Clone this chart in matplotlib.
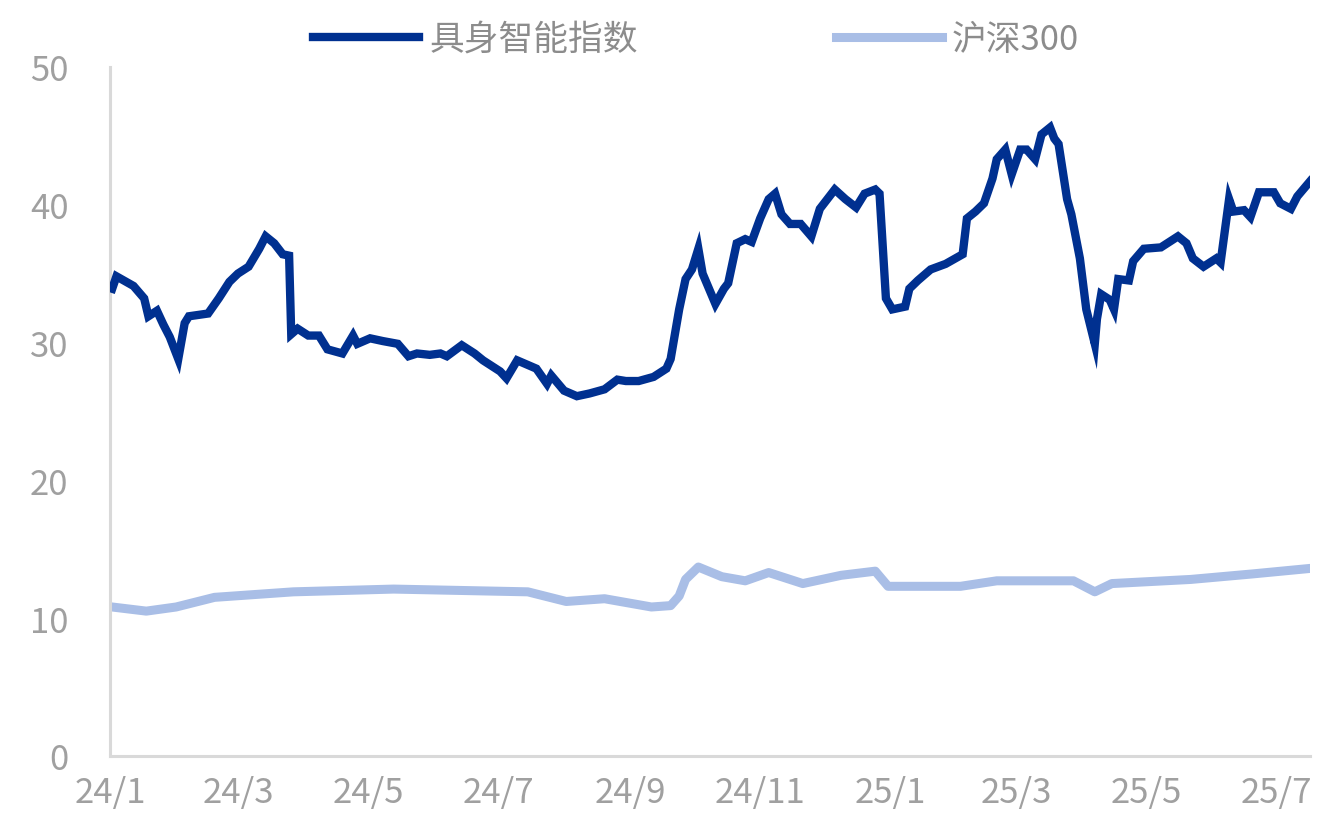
import matplotlib
matplotlib.use("Agg")
import matplotlib.pyplot as plt
import matplotlib.dates as mdates
import pandas as pd

plt.rcParams['font.family'] = ['Noto Sans CJK SC', 'DejaVu Sans']

# 具身智能指数
robot_dates = [
    "2024-01-02", "2024-01-04", "2024-01-12", "2024-01-17", "2024-01-19", "2024-01-23",
    "2024-01-26", "2024-01-29", "2024-02-02", "2024-02-05", "2024-02-07", "2024-02-16",
    "2024-02-21", "2024-02-26", "2024-03-01", "2024-03-06", "2024-03-11", "2024-03-14",
    "2024-03-18", "2024-03-22", "2024-03-25", "2024-03-26", "2024-03-29", "2024-04-03",
    "2024-04-08", "2024-04-12", "2024-04-19", "2024-04-24", "2024-04-26", "2024-05-02",
    "2024-05-08", "2024-05-15", "2024-05-20", "2024-05-24", "2024-05-30", "2024-06-04",
    "2024-06-07", "2024-06-14", "2024-06-20", "2024-06-24", "2024-07-02", "2024-07-05",
    "2024-07-10", "2024-07-16", "2024-07-19", "2024-07-24", "2024-07-26", "2024-08-01",
    "2024-08-07", "2024-08-13", "2024-08-20", "2024-08-26", "2024-08-30", "2024-09-05",
    "2024-09-12", "2024-09-18", "2024-09-20", "2024-09-24", "2024-09-27", "2024-09-30",
    "2024-10-03", "2024-10-05", "2024-10-08", "2024-10-11", "2024-10-15", "2024-10-17",
    "2024-10-21", "2024-10-25", "2024-10-28", "2024-11-01", "2024-11-05", "2024-11-08",
    "2024-11-11", "2024-11-15", "2024-11-20", "2024-11-25", "2024-11-29", "2024-12-06",
    "2024-12-11", "2024-12-16", "2024-12-20", "2024-12-25", "2024-12-27", "2024-12-30",
    "2025-01-02", "2025-01-08", "2025-01-10", "2025-01-14", "2025-01-20", "2025-01-27",
    "2025-02-04", "2025-02-06", "2025-02-10", "2025-02-14", "2025-02-18", "2025-02-20",
    "2025-02-24", "2025-02-27", "2025-03-03", "2025-03-06", "2025-03-10", "2025-03-13",
    "2025-03-17", "2025-03-19", "2025-03-21", "2025-03-25", "2025-03-27", "2025-03-31",
    "2025-04-03", "2025-04-07", "2025-04-08", "2025-04-10", "2025-04-14", "2025-04-16",
    "2025-04-18", "2025-04-23", "2025-04-25", "2025-04-30", "2025-05-08", "2025-05-12",
    "2025-05-16", "2025-05-20", "2025-05-23", "2025-05-28", "2025-06-03", "2025-06-05",
    "2025-06-09", "2025-06-11", "2025-06-16", "2025-06-19", "2025-06-23", "2025-06-30",
    "2025-07-03", "2025-07-08", "2025-07-11", "2025-07-17",
]
robot_values = [
    33.9, 34.8, 34.1, 33.2, 31.9, 32.3,
    31.3, 30.4, 28.8, 31.4, 31.9, 32.1,
    33.2, 34.4, 35.0, 35.5, 36.8, 37.7,
    37.2, 36.4, 36.3, 30.6, 31.0, 30.5,
    30.5, 29.5, 29.2, 30.5, 29.9, 30.3,
    30.1, 29.9, 29.0, 29.2, 29.1, 29.2,
    29.0, 29.8, 29.2, 28.7, 27.9, 27.4,
    28.7, 28.3, 28.1, 27.0, 27.6, 26.5,
    26.1, 26.3, 26.6, 27.3, 27.2, 27.2,
    27.5, 28.1, 28.8, 32.4, 34.6, 35.3,
    36.8, 35.0, 33.9, 32.8, 33.9, 34.3,
    37.2, 37.5, 37.3, 39.0, 40.4, 40.8,
    39.3, 38.6, 38.6, 37.7, 39.7, 41.1,
    40.4, 39.8, 40.8, 41.1, 40.8, 33.2,
    32.4, 32.6, 33.9, 34.5, 35.3, 35.7,
    36.4, 39.0, 39.5, 40.1, 41.9, 43.3,
    44.0, 42.2, 44.0, 44.0, 43.3, 45.1,
    45.6, 44.8, 44.4, 40.4, 39.3, 36.1,
    32.4, 29.9, 31.7, 33.5, 33.1, 32.4,
    34.6, 34.5, 35.9, 36.8, 36.9, 37.3,
    37.7, 37.2, 36.1, 35.5, 36.1, 35.8,
    40.4, 39.5, 39.6, 39.1, 40.9, 40.9,
    40.1, 39.7, 40.6, 41.7,
]

# 沪深300
hs_dates = [
    "2024-01-02", "2024-01-18", "2024-02-01", "2024-02-19", "2024-03-27", "2024-05-13",
    "2024-07-15", "2024-08-02", "2024-08-20", "2024-09-11", "2024-09-20", "2024-09-24",
    "2024-09-27", "2024-10-03", "2024-10-14", "2024-10-25", "2024-11-05", "2024-11-21",
    "2024-12-09", "2024-12-25", "2024-12-31", "2025-02-03", "2025-02-20", "2025-03-28",
    "2025-04-07", "2025-04-15", "2025-05-22", "2025-06-20", "2025-07-17",
]
hs_values = [
    10.8, 10.5, 10.8, 11.5, 11.9, 12.1,
    11.9, 11.2, 11.4, 10.8, 10.9, 11.6,
    12.8, 13.7, 13.0, 12.7, 13.3, 12.5,
    13.1, 13.4, 12.3, 12.3, 12.7, 12.7,
    11.9, 12.5, 12.8, 13.2, 13.6,
]

series_names = ["具身智能指数", "沪深300"]
y_ticks = [0, 10, 20, 30, 40, 50]

fig = plt.figure(figsize=(13.26, 8.28), dpi=100)
ax = fig.add_axes([0.083, 0.086, 0.905, 0.832])

ax.plot(pd.to_datetime(robot_dates), robot_values, color='#003090', lw=6,
        solid_joinstyle='miter', label=series_names[0], zorder=3)
ax.plot(pd.to_datetime(hs_dates), hs_values, color='#A9BEE6', lw=6.5,
        label=series_names[1], zorder=2)

ax.set_xlim(pd.Timestamp("2024-01-01"), pd.Timestamp("2025-07-17"))
ax.set_ylim(0, 50)
ax.set_yticks(y_ticks)

ax.xaxis.set_major_locator(mdates.MonthLocator(bymonth=[1, 3, 5, 7, 9, 11]))
ax.xaxis.set_major_formatter(
    plt.FuncFormatter(lambda v, p: f"{mdates.num2date(v).year % 100}/{mdates.num2date(v).month}"))

for s in ['top', 'right']:
    ax.spines[s].set_visible(False)
for s in ['left', 'bottom']:
    ax.spines[s].set_color('#D9D9D9')
    ax.spines[s].set_linewidth(2.2)

ax.tick_params(axis='both', length=0, labelsize=25, labelcolor='#A0A0A0')
ax.tick_params(axis='y', pad=30)
ax.tick_params(axis='x', pad=14)

fig.legend(loc='upper center', bbox_to_anchor=(0.525, 1.01), ncol=2, frameon=False,
           fontsize=25, handlelength=3.05, handletextpad=0.3, columnspacing=5.7,
           labelcolor='#8C8C8C')

fig.savefig('out.png', dpi=100)
